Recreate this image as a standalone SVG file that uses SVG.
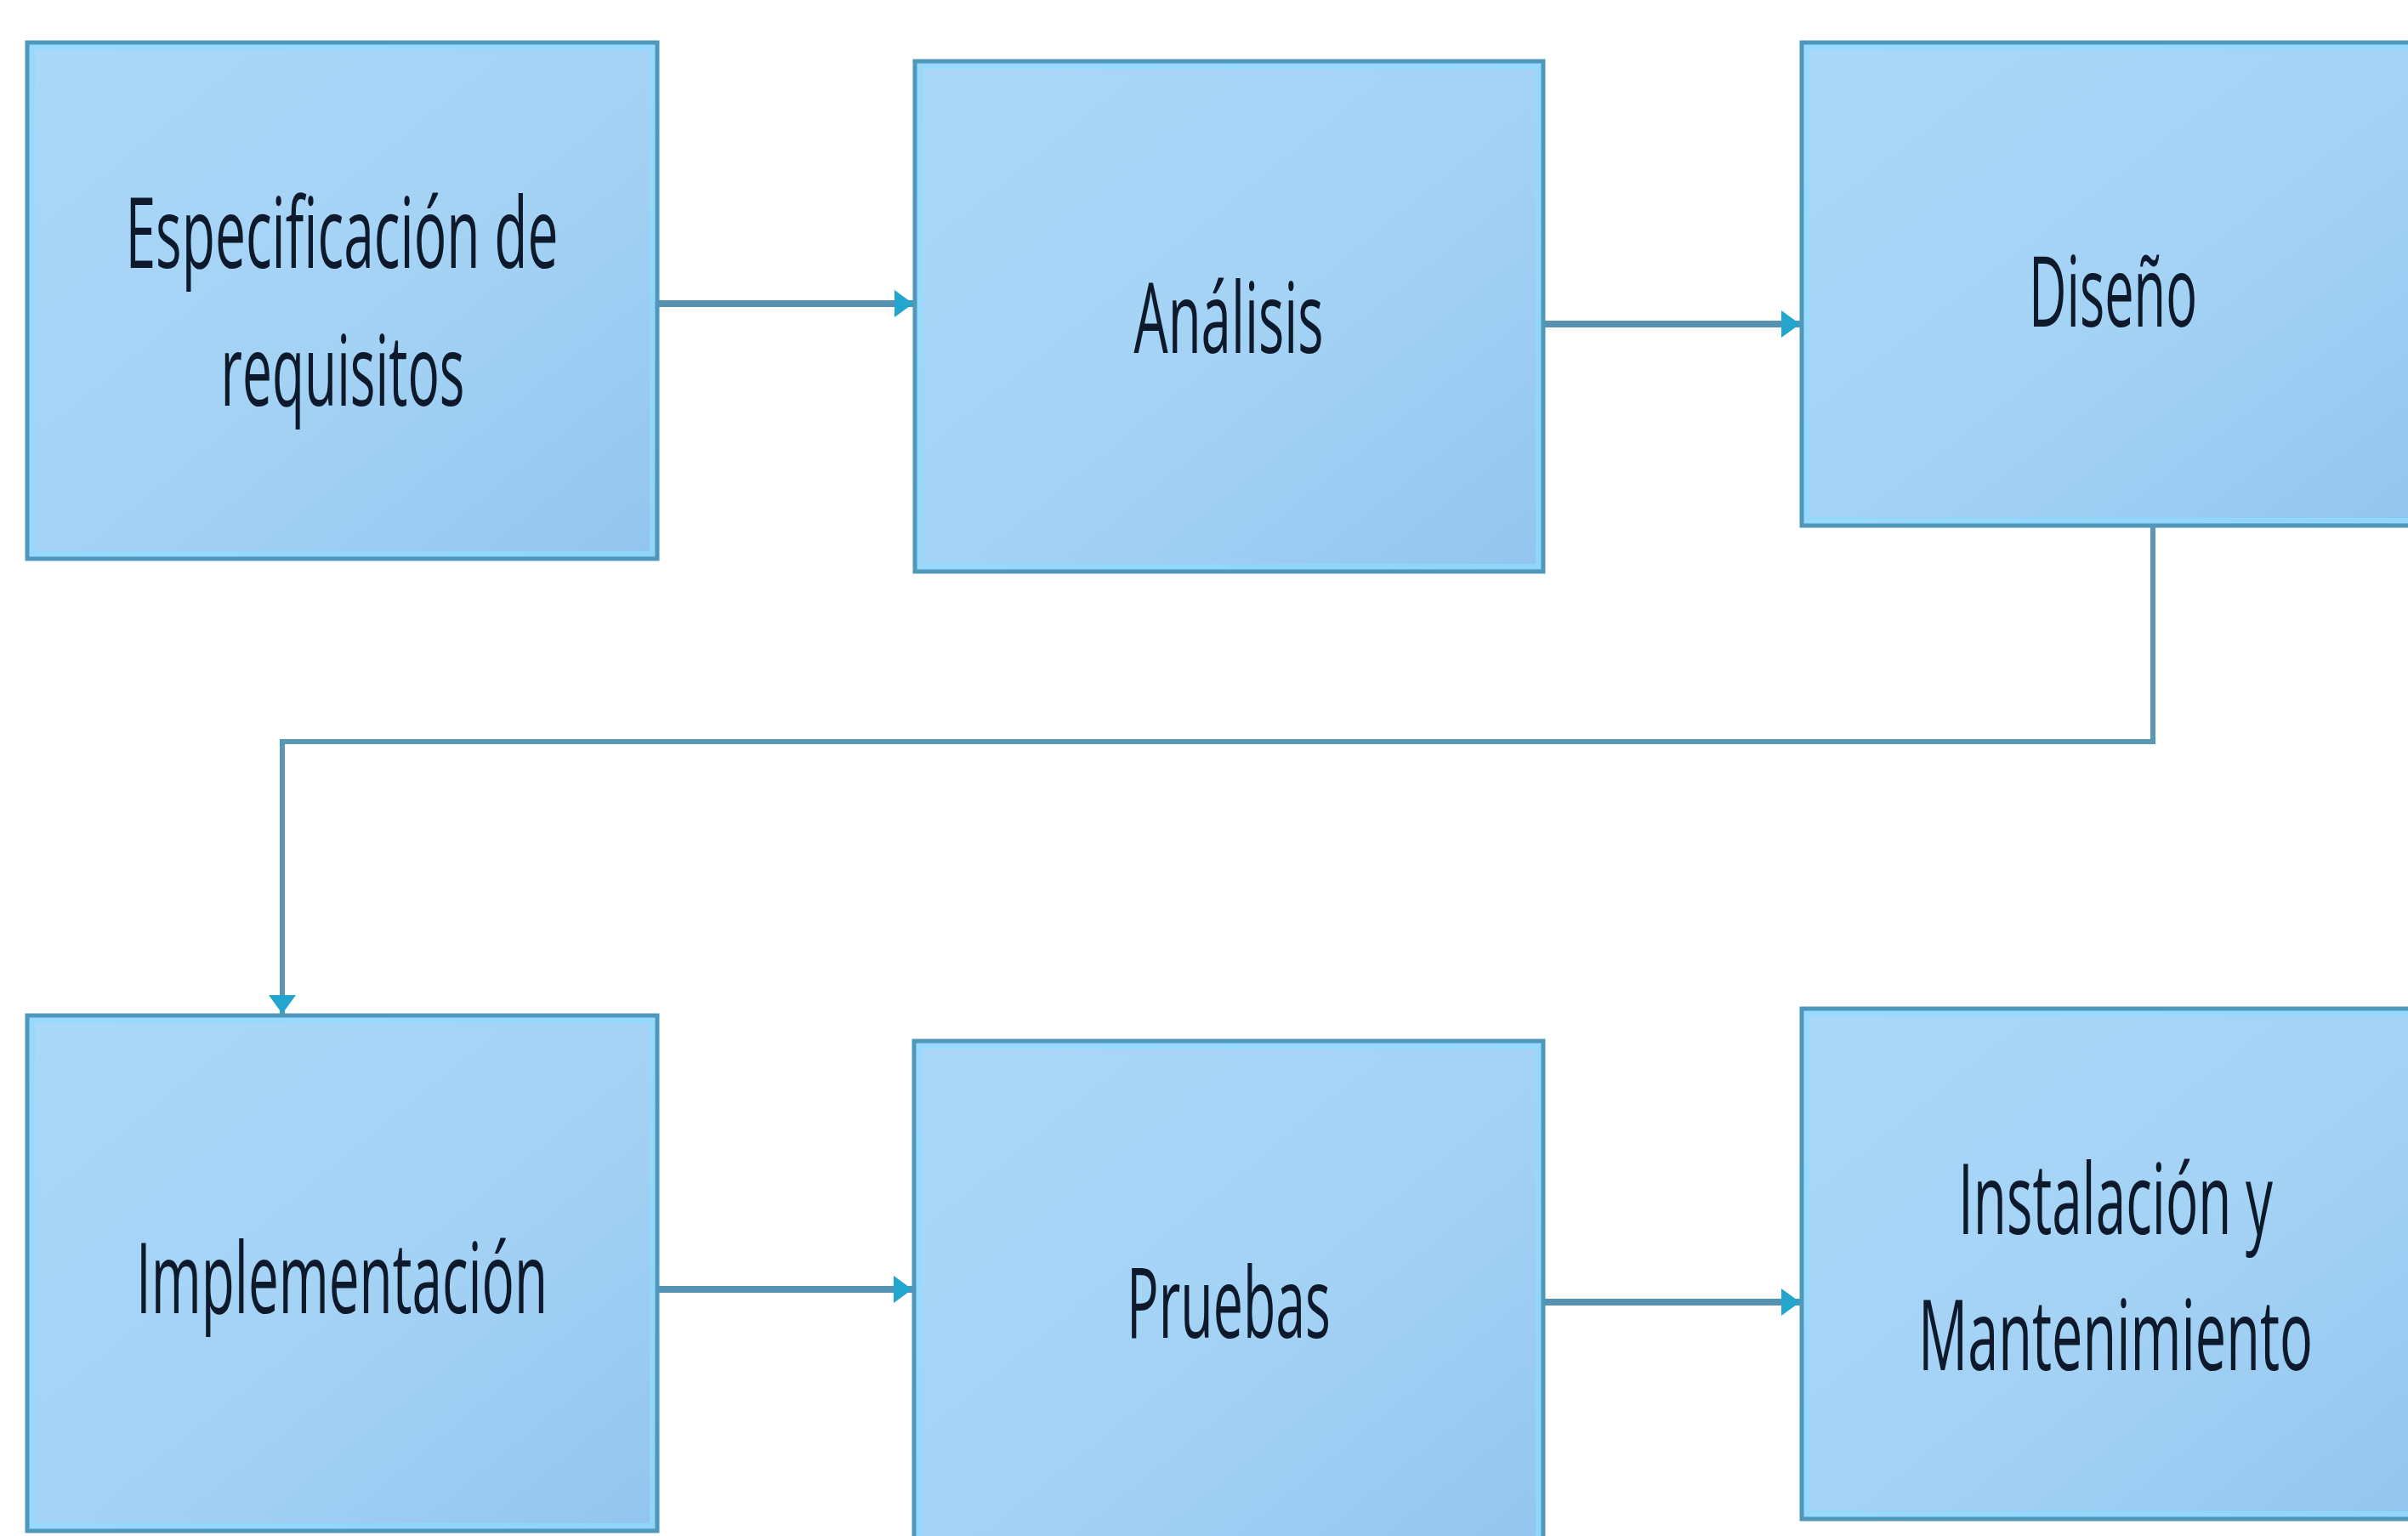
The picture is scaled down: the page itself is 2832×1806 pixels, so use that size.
<svg xmlns="http://www.w3.org/2000/svg" width="2832" height="1806" viewBox="0 0 2832 1806">
  <defs>
    <linearGradient id="boxFill" x1="0" y1="0" x2="1" y2="1">
      <stop offset="0" stop-color="#abd8f9"/>
      <stop offset="0.55" stop-color="#a4d2f5"/>
      <stop offset="1" stop-color="#92c5ee"/>
    </linearGradient>
    <marker id="arrow" markerUnits="userSpaceOnUse" markerWidth="24" markerHeight="36" refX="22" refY="18" orient="auto">
      <path d="M0,2 L22,18 L0,34 Z" fill="#22a6cd"/>
    </marker>
    <style>
      .box { fill: url(#boxFill); stroke: #4f97bb; stroke-width: 5; }
      .inner { fill: none; stroke: #8edcff; stroke-width: 6; opacity: 0.7; }
      .label { font-family: "Open Sans", "Liberation Sans", sans-serif; font-size: 116px; fill: #0e1a2b; text-anchor: middle; }
      .conn { fill: none; stroke: #5591b0; stroke-width: 8; }
      .connv { fill: none; stroke: #5a97b4; stroke-width: 6; }
    </style>
  </defs>
  <rect width="2832" height="1806" fill="#ffffff"/>

  <g id="connectors">
    <line class="conn" x1="773" y1="357" x2="1074" y2="357" marker-end="url(#arrow)"/>
    <line class="conn" x1="1815" y1="381" x2="2117" y2="381" marker-end="url(#arrow)"/>
    <path class="connv" d="M2532,618 V872 H332 V1192" marker-end="url(#arrow)"/>
    <line class="conn" x1="773" y1="1516" x2="1073" y2="1516" marker-end="url(#arrow)"/>
    <line class="conn" x1="1815" y1="1531" x2="2117" y2="1531" marker-end="url(#arrow)"/>
  </g>

  <g id="node-especificacion">
    <rect class="box" x="32" y="50" width="741" height="607"/>
    <rect class="inner" x="38" y="56" width="729" height="595"/>
    <text class="label" x="402" y="315" textLength="509" lengthAdjust="spacingAndGlyphs">Especificación de</text>
    <text class="label" x="403" y="477" textLength="287" lengthAdjust="spacingAndGlyphs">requisitos</text>
  </g>

  <g id="node-analisis">
    <rect class="box" x="1076" y="72" width="739" height="600"/>
    <rect class="inner" x="1082" y="78" width="727" height="588"/>
    <text class="label" x="1445" y="415" textLength="223" lengthAdjust="spacingAndGlyphs">Análisis</text>
  </g>

  <g id="node-diseno">
    <rect class="box" x="2119" y="50" width="740" height="568"/>
    <rect class="inner" x="2125" y="56" width="728" height="556"/>
    <text class="label" x="2485" y="384" textLength="198" lengthAdjust="spacingAndGlyphs">Diseño</text>
  </g>

  <g id="node-implementacion">
    <rect class="box" x="32" y="1194" width="741" height="606"/>
    <rect class="inner" x="38" y="1200" width="729" height="594"/>
    <text class="label" x="402" y="1544" textLength="484" lengthAdjust="spacingAndGlyphs">Implementación</text>
  </g>

  <g id="node-pruebas">
    <rect class="box" x="1075" y="1224" width="740" height="604"/>
    <rect class="inner" x="1081" y="1230" width="728" height="592"/>
    <text class="label" x="1445" y="1573" textLength="240" lengthAdjust="spacingAndGlyphs">Pruebas</text>
  </g>

  <g id="node-instalacion">
    <rect class="box" x="2119" y="1186" width="740" height="600"/>
    <rect class="inner" x="2125" y="1192" width="728" height="588"/>
    <text class="label" x="2488" y="1451" textLength="370" lengthAdjust="spacingAndGlyphs">Instalación y</text>
    <text class="label" x="2488" y="1611" textLength="464" lengthAdjust="spacingAndGlyphs">Mantenimiento</text>
  </g>
</svg>
